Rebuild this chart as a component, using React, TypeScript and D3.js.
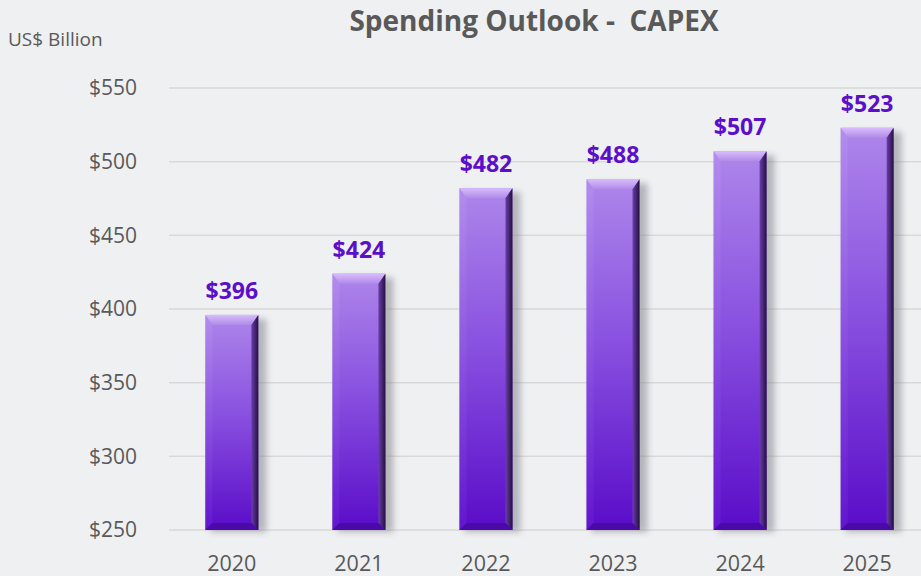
import React from "react";
import * as d3 from "d3";

const years = ["2020", "2021", "2022", "2023", "2024", "2025"];
const capex = [396, 424, 482, 488, 507, 523];
const yTicks = [250, 300, 350, 400, 450, 500, 550];

const W = 921;
const H = 576;

export default function App() {
  const x = d3.scaleBand<string>().domain(years).range([168.5, 930.5]).paddingInner(0.583).paddingOuter(0.29);
  const y = d3.scaleLinear().domain([250, 550]).range([530, 88]);
  const bw = x.bandwidth();
  const b = 7;
  const font = "'Open Sans', 'Noto Sans', sans-serif";
  return (
    <svg width={W} height={H} style={{ position: "absolute", left: 0, top: 0 }} fontFamily={font}>
      <defs>
        <linearGradient id="bodyGrad" x1="0" y1="0" x2="0" y2="1">
          <stop offset="0%" stopColor="#ad86ea" />
          <stop offset="45%" stopColor="#8a52e0" />
          <stop offset="100%" stopColor="#5a0cc8" />
        </linearGradient>
        <linearGradient id="rightGrad" x1="0" y1="0" x2="1" y2="0">
          <stop offset="0%" stopColor="#6a3eaa" />
          <stop offset="100%" stopColor="#241040" />
        </linearGradient>
        <linearGradient id="topGrad" x1="0" y1="0" x2="0" y2="1">
          <stop offset="0%" stopColor="#d8bcfc" />
          <stop offset="100%" stopColor="#b08ae8" />
        </linearGradient>
        <linearGradient id="leftGrad" x1="0" y1="0" x2="0" y2="1">
          <stop offset="0%" stopColor="#b894f0" />
          <stop offset="100%" stopColor="#6a1ed6" />
        </linearGradient>
        <filter id="shadow" x="-50%" y="-10%" width="200%" height="130%">
          <feGaussianBlur stdDeviation="3" />
        </filter>
      </defs>
      <rect x={0} y={0} width={W} height={H} fill="#eff0f2" />
      <text x={534} y={31} textAnchor="middle" fontSize={28} fontWeight="bold" fill="#595959" style={{ whiteSpace: "pre" }}>
        Spending Outlook -  CAPEX
      </text>
      <text x={8} y={46} fontSize={19} fill="#595959">US$ Billion</text>
      {yTicks.map((t) => (
        <g key={t}>
          <line x1={169} x2={W} y1={y(t)} y2={y(t)} stroke="#d9d9d9" strokeWidth={1.5} />
          <text x={137} y={y(t)} dy="0.35em" textAnchor="end" fontSize={21} fill="#595959">
            {`$${t}`}
          </text>
        </g>
      ))}
      {years.map((yr, i) => {
        const x0 = x(yr)!;
        const x1 = x0 + bw;
        const y0 = y(capex[i]);
        const y1 = y(250);
        return (
          <g key={yr}>
            <rect x={x0 + 5} y={y0 + 4} width={bw + 3} height={y1 - y0 - 2} fill="#7a7a84" opacity={0.5} filter="url(#shadow)" />
            <rect x={x0} y={y0} width={bw} height={y1 - y0} fill="url(#bodyGrad)" />
            <polygon points={`${x0},${y0} ${x1},${y0} ${x1 - b},${y0 + b + 3} ${x0 + b},${y0 + b + 3}`} fill="url(#topGrad)" />
            <polygon points={`${x0},${y0} ${x0 + b},${y0 + b + 3} ${x0 + b},${y1 - b} ${x0},${y1}`} fill="url(#leftGrad)" opacity={0.5} />
            <polygon points={`${x1},${y0} ${x1},${y1} ${x1 - b},${y1 - b} ${x1 - b},${y0 + b + 3}`} fill="url(#rightGrad)" />
            <polygon points={`${x0},${y1} ${x0 + b},${y1 - b} ${x1 - b},${y1 - b} ${x1},${y1}`} fill="#4a0aa8" />
            <text x={x0 + bw / 2} y={y0 - 16} textAnchor="middle" fontSize={23} fontWeight="bold" fill="#5b0fc8">
              {`$${capex[i]}`}
            </text>
            <text x={x0 + bw / 2} y={571} textAnchor="middle" fontSize={21.5} fill="#595959">
              {yr}
            </text>
          </g>
        );
      })}
    </svg>
  );
}
